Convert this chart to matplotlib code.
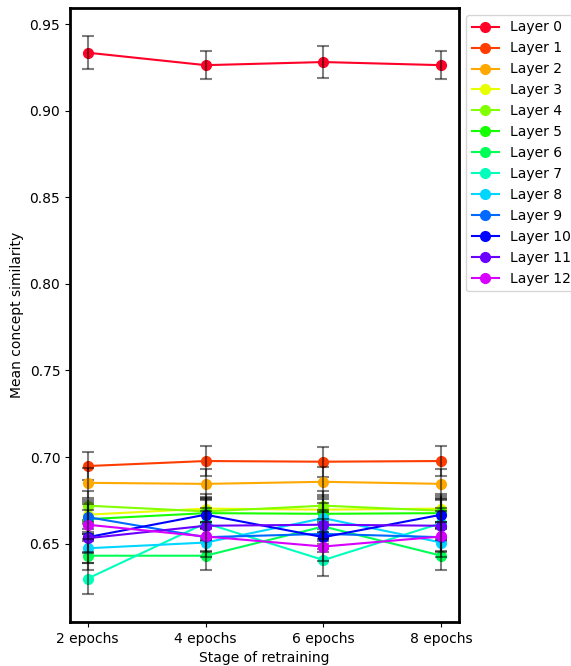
import matplotlib
matplotlib.use('Agg')
import matplotlib.pyplot as plt
import numpy as np

stages = ['2 epochs', '4 epochs', '6 epochs', '8 epochs']
layers = ['Layer %d' % i for i in range(13)]

# mean concept similarity per layer
means = [
    [0.9336, 0.9264, 0.9282, 0.9264],
    [0.6948, 0.6977, 0.6973, 0.6977],
    [0.6851, 0.6845, 0.6857, 0.6845],
    [0.6667, 0.6702, 0.6696, 0.6702],
    [0.6719, 0.6686, 0.6719, 0.6690],
    [0.6641, 0.6676, 0.6672, 0.6676],
    [0.6430, 0.6430, 0.6599, 0.6430],
    [0.6298, 0.6618, 0.6405, 0.6618],
    [0.6473, 0.6506, 0.6647, 0.6506],
    [0.6653, 0.6537, 0.6556, 0.6537],
    [0.6537, 0.6667, 0.6537, 0.6667],
    [0.6531, 0.6603, 0.6609, 0.6603],
    [0.6609, 0.6541, 0.6483, 0.6541],
]
errs = [
    [0.0097, 0.0082, 0.0093, 0.0082],
    [0.0082, 0.0088, 0.0086, 0.0088],
    [0.0085, 0.0085, 0.0086, 0.0085],
    [0.0085, 0.0085, 0.0085, 0.0085],
    [0.0085, 0.0085, 0.0085, 0.0085],
    [0.0085, 0.0085, 0.0085, 0.0085],
    [0.0085, 0.0085, 0.0085, 0.0085],
    [0.0090, 0.0085, 0.0090, 0.0085],
    [0.0085, 0.0085, 0.0085, 0.0085],
    [0.0085, 0.0085, 0.0085, 0.0085],
    [0.0085, 0.0085, 0.0085, 0.0085],
    [0.0085, 0.0085, 0.0085, 0.0085],
    [0.0085, 0.0085, 0.0085, 0.0085],
]

fig = plt.figure(figsize=(5.71, 6.66), dpi=100)
ax = fig.add_axes([0.1226, 0.066, 0.6813, 0.922])

x = np.arange(len(stages))
for i in range(len(layers)):
    c = plt.cm.gist_rainbow(i / 13)
    ax.plot(x, means[i], color=c, marker='o', markersize=7, linewidth=1.5,
            label=layers[i])
    ax.errorbar(x, means[i], yerr=errs[i], fmt='none', ecolor=(0, 0, 0, 0.5),
                elinewidth=1.5, capsize=4, capthick=1.5)

ax.set_xticks(x)
ax.set_xticklabels(stages)
ax.set_xlabel('Stage of retraining')
ax.set_ylabel('Mean concept similarity')
for s in ax.spines.values():
    s.set_linewidth(2)
ax.legend(loc='upper left', bbox_to_anchor=(1.0, 1.0))

fig.savefig('out.png', dpi=100)
